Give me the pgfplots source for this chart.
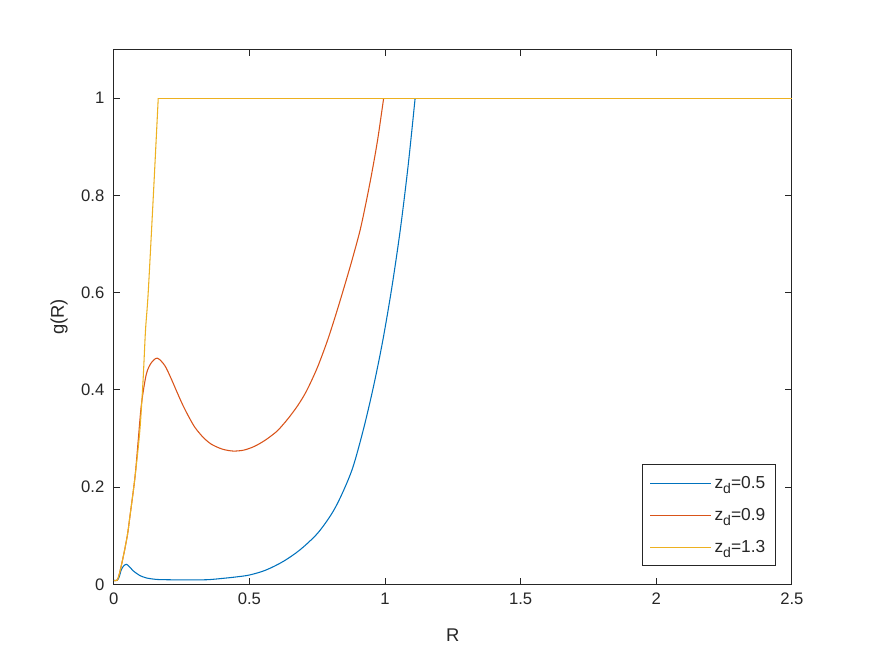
\documentclass[border=0pt]{standalone}
\usepackage{fontspec}
\setmainfont{Liberation Sans}
\usepackage{pgfplots}
\pgfplotsset{compat=1.18}
\definecolor{mblue}{RGB}{0,114,189}
\definecolor{mred}{RGB}{217,83,25}
\definecolor{myellow}{RGB}{237,177,32}
\definecolor{axgray}{RGB}{38,38,38}
\newcommand{\zd}[1]{z\raisebox{-0.55ex}{\fontsize{10.5}{11}\selectfont d}=#1}
\pgfplotsset{mylegimg/.style={legend image code/.code={\draw[##1, line width=0.8pt] (0pt,0pt) -- (46pt,0pt);}}}
\begin{document}
\begin{tikzpicture}
\begin{axis}[
  at={(0,0)}, anchor=south west,
  scale only axis, width=508.5pt, height=401pt,
  xmin=0, xmax=2.5, ymin=0, ymax=1.1,
  xtick={0,0.5,1,1.5,2,2.5}, xticklabels={0,0.5,1,1.5,2,2.5},
  ytick={0,0.2,0.4,0.6,0.8,1}, yticklabels={0,0.2,0.4,0.6,0.8,1},
  tick align=inside, tick pos=both, major tick length=5pt,
  axis line style={axgray, line width=0.75pt},
  every tick/.style={axgray, line width=0.75pt},
  tick label style={font=\fontsize{12.5}{15}\selectfont, text=axgray},
  xticklabel style={yshift=-3pt},
  yticklabel style={xshift=-3.5pt},
  xlabel={R}, ylabel={g(R)},
  label style={font=\fontsize{13.8}{16}\selectfont, text=axgray},
  xlabel style={at={(axis description cs:0.5,-0.0945)}, anchor=center},
  ylabel style={at={(axis description cs:-0.0806,0.5)}, anchor=center},
  legend style={at={(1,0)}, anchor=south east, xshift=-12.2pt, yshift=13.5pt,
    draw=axgray, line width=0.6pt, fill=white,
    font=\fontsize{13}{15}\selectfont, text=axgray,
    inner xsep=5.5pt, inner ysep=6.5pt, row sep=9.5pt},
  legend cell align=left,
]
\addplot[mblue, line width=0.8pt, smooth, mylegimg] coordinates {
(0,0.008) (0.012,0.008) (0.02,0.015) (0.028,0.030) (0.037,0.038) (0.047,0.041)
(0.058,0.036) (0.071,0.028) (0.085,0.022) (0.096,0.018) (0.12,0.013) (0.157,0.010)
(0.2,0.0093) (0.25,0.009) (0.3,0.009) (0.35,0.0095) (0.4,0.012) (0.45,0.015)
(0.5,0.019) (0.56,0.029) (0.625,0.047) (0.687,0.071) (0.75,0.104) (0.80,0.142)
(0.835,0.178) (0.88,0.238) (0.921,0.320) (0.958,0.408) (0.992,0.502)
(1.025,0.610) (1.056,0.728) (1.085,0.86) (1.111,1)
};
\addlegendentry{\zd{0.5}}
\addplot[mblue, line width=0.8pt, forget plot] coordinates {(1.111,1) (2.5,1)};
\addplot[mred, line width=0.8pt, smooth, mylegimg] coordinates {
(0,0.008) (0.012,0.008) (0.02,0.02) (0.034,0.054) (0.05,0.10) (0.059,0.137)
(0.078,0.219) (0.090,0.295) (0.102,0.370) (0.120,0.432) (0.139,0.456) (0.161,0.465)
(0.188,0.450) (0.21,0.425) (0.231,0.398) (0.255,0.368) (0.278,0.343) (0.30,0.322)
(0.33,0.302) (0.36,0.288) (0.40,0.278) (0.44,0.274) (0.48,0.276) (0.52,0.284)
(0.56,0.297) (0.60,0.314) (0.625,0.329) (0.65,0.346) (0.68,0.369) (0.711,0.398)
(0.75,0.445) (0.787,0.500) (0.82,0.557) (0.853,0.618) (0.88,0.67) (0.908,0.728)
(0.93,0.785) (0.951,0.845) (0.973,0.915) (0.995,1)
};
\addlegendentry{\zd{0.9}}
\addplot[mred, line width=0.8pt, forget plot] coordinates {(0.995,1) (2.5,1)};
\addplot[myellow, line width=0.8pt, smooth, mylegimg] coordinates {
(0,0.008) (0.012,0.008) (0.02,0.02) (0.034,0.054) (0.05,0.10) (0.059,0.137)
(0.078,0.219) (0.096,0.315) (0.108,0.419) (0.117,0.522) (0.127,0.6) (0.146,0.8)
(0.164,1)
};
\addlegendentry{\zd{1.3}}
\addplot[myellow, line width=0.8pt, forget plot] coordinates {(0.164,1) (2.5,1)};
\end{axis}
\path[use as bounding box] (-85.3pt,-54pt) rectangle (570.8pt,438.1pt);
\end{tikzpicture}
\end{document}
